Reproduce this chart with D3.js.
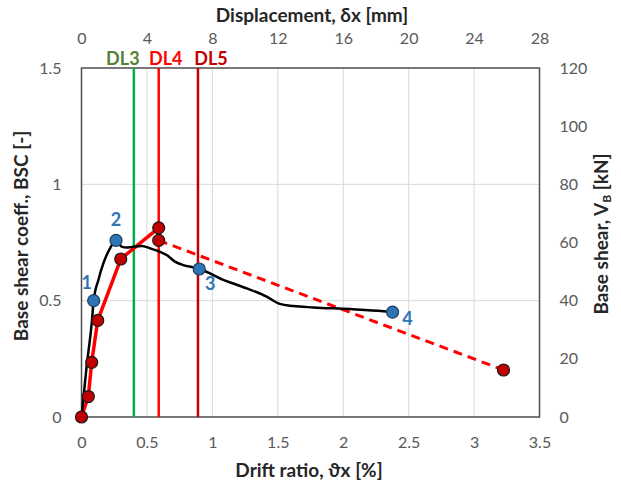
<!DOCTYPE html>
<html>
<head>
<meta charset="utf-8">
<script src="https://cdn.jsdelivr.net/npm/d3@7"></script>
<style>
  body { margin: 0; background: #fff; }
  svg { display: block; font-family: Lato, "Open Sans", sans-serif; }
</style>
</head>
<body>
<svg id="chart" width="621" height="489"></svg>
<script>
// Drift ratio [%] / base shear coefficient [-]
const testDrift = [0, 0.039, 0.078, 0.093, 0.129, 0.167, 0.218, 0.264, 0.307, 0.345, 0.396, 0.46, 0.523, 0.6, 0.651, 0.714, 0.778, 0.854, 0.90, 0.982, 1.083, 1.16, 1.262, 1.415, 1.516, 1.618, 1.771, 2.051, 2.306, 2.377];
const testBSC   = [0, 0.216, 0.403, 0.50, 0.589, 0.660, 0.725, 0.759, 0.732, 0.728, 0.732, 0.735, 0.725, 0.710, 0.696, 0.668, 0.653, 0.643, 0.636, 0.617, 0.589, 0.574, 0.553, 0.517, 0.486, 0.477, 0.471, 0.464, 0.455, 0.451];

// Numbered damage points on the test curve
const keyLabels = ["1", "2", "3", "4"];
const keyDrift  = [0.093, 0.264, 0.90, 2.377];
const keyBSC    = [0.50, 0.759, 0.636, 0.451];

// Numerical model: solid up to peak, dashed softening branch
const modelDrift = [0, 0.052, 0.078, 0.124, 0.30, 0.59, 0.59];
const modelBSC   = [0, 0.088, 0.235, 0.415, 0.679, 0.813, 0.759];
const softDrift  = [0.59, 3.225];
const softBSC    = [0.759, 0.202];

// Damage limit states
const dlNames = ["DL3", "DL4", "DL5"];
const dlDrift = [0.40, 0.59, 0.89];
const dlLineColors  = ["#00B050", "#FF0000", "#C00000"];
const dlLabelColors = ["#548235", "#FF0000", "#C00000"];

// Axis ticks
const driftTicks = [0, 0.5, 1, 1.5, 2, 2.5, 3, 3.5];
const dispTicks  = [0, 4, 8, 12, 16, 20, 24, 28];
const bscTicks   = [0, 0.5, 1, 1.5];
const vbTicks    = [0, 20, 40, 60, 80, 100, 120];

const svg = d3.select("#chart");
const m = { left: 81.5, right: 539.5, top: 68, bottom: 417 };

const x  = d3.scaleLinear().domain([0, 3.5]).range([m.left, m.right]);
const xd = d3.scaleLinear().domain([0, 28]).range([m.left, m.right]);
const y  = d3.scaleLinear().domain([0, 1.5]).range([m.bottom, m.top]);
const yv = d3.scaleLinear().domain([0, 120]).range([m.bottom, m.top]);

const tickColor = "#595959";
const tickFont = "16px";
const titleFont = "19px";

// Gridlines
const grid = svg.append("g");
grid.selectAll(".gx").data(driftTicks.slice(1, -1)).join("line")
  .attr("x1", d => x(d)).attr("x2", d => x(d))
  .attr("y1", m.top).attr("y2", m.bottom)
  .attr("stroke", "#d9d9d9").attr("stroke-width", 1);
grid.selectAll(".gy").data(bscTicks.slice(1, -1)).join("line")
  .attr("x1", m.left).attr("x2", m.right)
  .attr("y1", d => y(d)).attr("y2", d => y(d))
  .attr("stroke", "#d9d9d9").attr("stroke-width", 1);

// Axes (tick labels only; frame drawn separately)
function styleAxis(g) {
  g.select(".domain").remove();
  g.selectAll(".tick line").remove();
  g.selectAll("text").attr("fill", tickColor).style("font-size", tickFont)
    .style("font-family", "Lato, 'Open Sans', sans-serif");
}
svg.append("g").attr("transform", `translate(0,${m.bottom})`)
  .call(d3.axisBottom(x).tickValues(driftTicks).tickFormat(d3.format("~g")).tickPadding(14))
  .call(styleAxis);
svg.append("g").attr("transform", `translate(0,${m.top})`)
  .call(d3.axisTop(xd).tickValues(dispTicks).tickFormat(d3.format("d")).tickPadding(18))
  .call(styleAxis);
svg.append("g").attr("transform", `translate(${m.left},0)`)
  .call(d3.axisLeft(y).tickValues(bscTicks).tickFormat(d3.format("~g")).tickPadding(14))
  .call(styleAxis);
svg.append("g").attr("transform", `translate(${m.right},0)`)
  .call(d3.axisRight(yv).tickValues(vbTicks).tickFormat(d3.format("d")).tickPadding(14))
  .call(styleAxis);

// Plot frame
svg.append("rect")
  .attr("x", m.left).attr("y", m.top)
  .attr("width", m.right - m.left).attr("height", m.bottom - m.top)
  .attr("fill", "none").attr("stroke", "#4d4d4d").attr("stroke-width", 1.5);

// Damage limit lines and labels
dlDrift.forEach((d, i) => {
  svg.append("line")
    .attr("x1", x(d)).attr("x2", x(d)).attr("y1", m.top).attr("y2", m.bottom)
    .attr("stroke", dlLineColors[i]).attr("stroke-width", 2.5);
});
const dlLabelDx = [-11, 7, 13];
svg.selectAll(".dl").data(dlNames).join("text")
  .attr("x", (d, i) => x(dlDrift[i]) + dlLabelDx[i])
  .attr("y", 65)
  .attr("text-anchor", "middle")
  .attr("fill", (d, i) => dlLabelColors[i])
  .style("font-size", "18px").style("font-weight", "bold")
  .text(d => d);

// Model curve
const line = d3.line().x(d => x(d[0])).y(d => y(d[1]));
const modelPts = modelDrift.map((d, i) => [d, modelBSC[i]]);
const softPts = softDrift.map((d, i) => [d, softBSC[i]]);
svg.append("path").datum(softPts).attr("d", line)
  .attr("fill", "none").attr("stroke", "#FF0000").attr("stroke-width", 3)
  .attr("stroke-dasharray", "9,6");
svg.append("path").datum(modelPts).attr("d", line)
  .attr("fill", "none").attr("stroke", "#FF0000").attr("stroke-width", 3.5)
  .attr("stroke-linejoin", "round");

// Test curve
const testPts = testDrift.map((d, i) => [d, testBSC[i]]);
svg.append("path").datum(testPts)
  .attr("d", d3.line().x(d => x(d[0])).y(d => y(d[1])).curve(d3.curveMonotoneX))
  .attr("fill", "none").attr("stroke", "#000").attr("stroke-width", 2.5)
  .attr("stroke-linejoin", "round");

// Model markers
const modelMarks = modelPts.concat([softPts[1]]);
svg.selectAll(".mm").data(modelMarks).join("circle")
  .attr("cx", d => x(d[0])).attr("cy", d => y(d[1])).attr("r", 6)
  .attr("fill", "#C00000").attr("stroke", "#1a1a1a").attr("stroke-width", 1.2);

// Key points on test curve
const keyPts = keyDrift.map((d, i) => [d, keyBSC[i]]);
svg.selectAll(".kp").data(keyPts).join("circle")
  .attr("cx", d => x(d[0])).attr("cy", d => y(d[1])).attr("r", 6)
  .attr("fill", "#2E75B6").attr("stroke", "#1f3d5c").attr("stroke-width", 1.2);
const keyDx = [-7, 0, 11, 15];
const keyDy = [-12, -14, 21, 13];
svg.selectAll(".kl").data(keyLabels).join("text")
  .attr("x", (d, i) => x(keyDrift[i]) + keyDx[i])
  .attr("y", (d, i) => y(keyBSC[i]) + keyDy[i])
  .attr("text-anchor", "middle")
  .attr("fill", "#2E75B6")
  .style("font-size", "18px").style("font-weight", "bold")
  .text(d => d);

// Axis titles
svg.append("text").attr("x", 312).attr("y", 22).attr("text-anchor", "middle")
  .attr("fill", "#262626").style("font-size", titleFont).style("font-weight", "bold")
  .text("Displacement, δx [mm]");
svg.append("text").attr("x", 309).attr("y", 477).attr("text-anchor", "middle")
  .attr("fill", "#262626").style("font-size", titleFont).style("font-weight", "bold")
  .text("Drift ratio, ϑx [%]");
svg.append("text")
  .attr("transform", `translate(28,236) rotate(-90)`)
  .attr("text-anchor", "middle")
  .attr("fill", "#262626").style("font-size", titleFont).style("font-weight", "bold")
  .text("Base shear coeff., BSC [-]");
const rt = svg.append("text")
  .attr("transform", `translate(608,234) rotate(-90)`)
  .attr("text-anchor", "middle")
  .attr("fill", "#262626").style("font-size", titleFont).style("font-weight", "bold");
rt.append("tspan").text("Base shear, V");
rt.append("tspan").attr("dy", 3).style("font-size", "12px").text("B");
rt.append("tspan").attr("dy", -3).text(" [kN]");
</script>
</body>
</html>
